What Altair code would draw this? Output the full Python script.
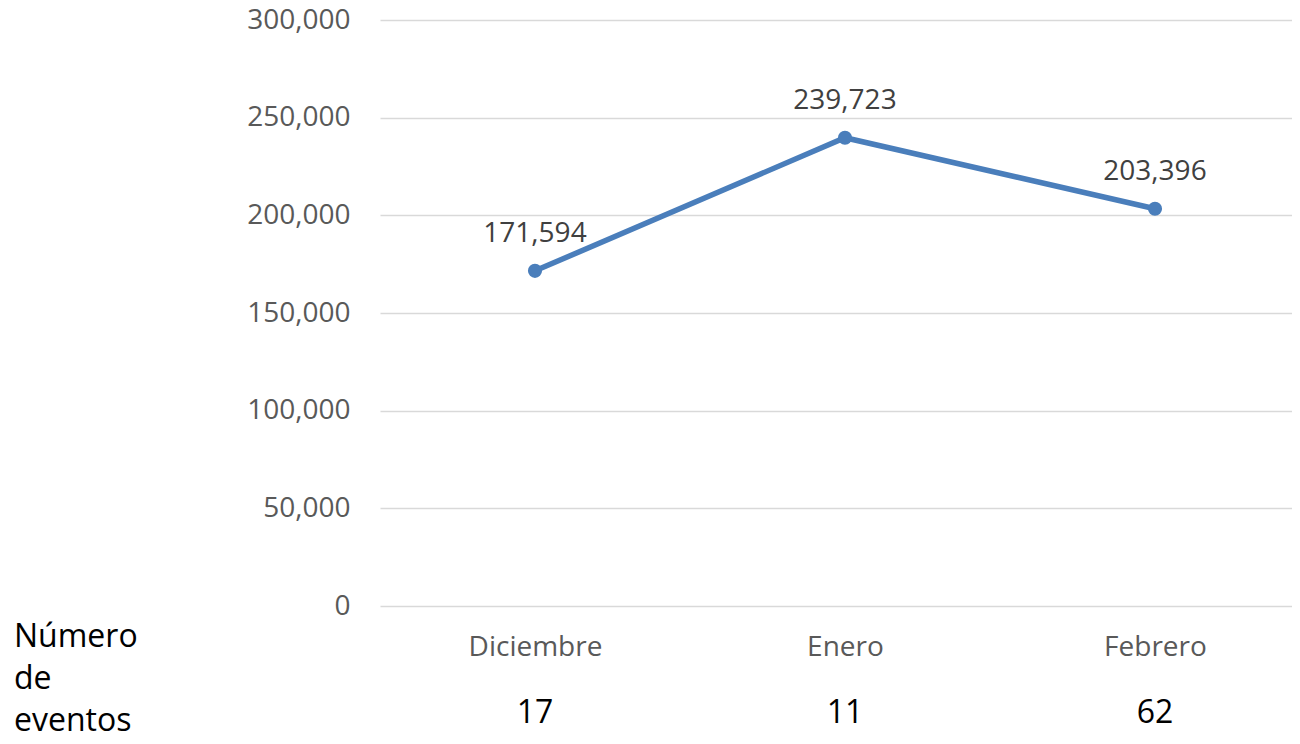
import altair as alt
import pandas as pd

months = ["Diciembre", "Enero", "Febrero"]
values = [171594, 239723, 203396]
events = ["17", "11", "62"]
row_title = "Número\nde\neventos"
y_ticks = [0, 50000, 100000, 150000, 200000, 250000, 300000]

df = pd.DataFrame({"mes": months, "valor": values, "eventos": events})
FONT = "Open Sans"

x = alt.X(
    "mes:N",
    sort=months,
    title=None,
    scale=alt.Scale(type="point", padding=0.47097, align=0.5308),
    axis=alt.Axis(
        labelFont=FONT, labelFontSize=28, labelColor="#595959",
        labelPadding=41, labelBaseline="middle", labelAngle=0,
        ticks=False, domain=False, grid=False,
    ),
)
y = alt.Y(
    "valor:Q",
    title=None,
    scale=alt.Scale(domain=[0, 300000], nice=False),
    axis=alt.Axis(
        values=y_ticks,
        format=",.0f", labelFont=FONT, labelFontSize=28, labelColor="#595959",
        labelPadding=30, ticks=False, domain=False,
        gridColor="#D9D9D9", gridWidth=1.5,
    ),
)

base = alt.Chart(df)
line = base.mark_line(color="#4A7EBB", strokeWidth=5.5).encode(x=x, y=y)
pts = base.mark_point(filled=True, color="#4A7EBB", size=200, opacity=1).encode(x=x, y=y)
labels = base.mark_text(
    font=FONT, fontSize=28, color="#404040", dy=-37, baseline="middle"
).encode(x=x, y=y, text=alt.Text("valor:Q", format=","))
ev = base.mark_text(
    font=FONT, fontSize=32, color="#000000", baseline="middle"
).encode(x=x, y=alt.value(693), text="eventos:N")
title_df = pd.DataFrame({"t": [row_title]})
rowt = alt.Chart(title_df).mark_text(
    font=FONT, fontSize=32, color="#000000", align="left",
    baseline="alphabetic", lineBreak="\n", lineHeight=42,
).encode(x=alt.value(-366), y=alt.value(627), text="t:N")

chart = alt.layer(line, pts, labels, ev, rowt).properties(
    width=912, height=586,
    autosize=alt.AutoSizeParams(type="none"),
    padding={"left": 372, "top": 12, "right": 0, "bottom": 128},
).configure(background="white").configure_view(stroke=None)

chart.save("out.html", embed_options={"renderer": "svg", "actions": False})
